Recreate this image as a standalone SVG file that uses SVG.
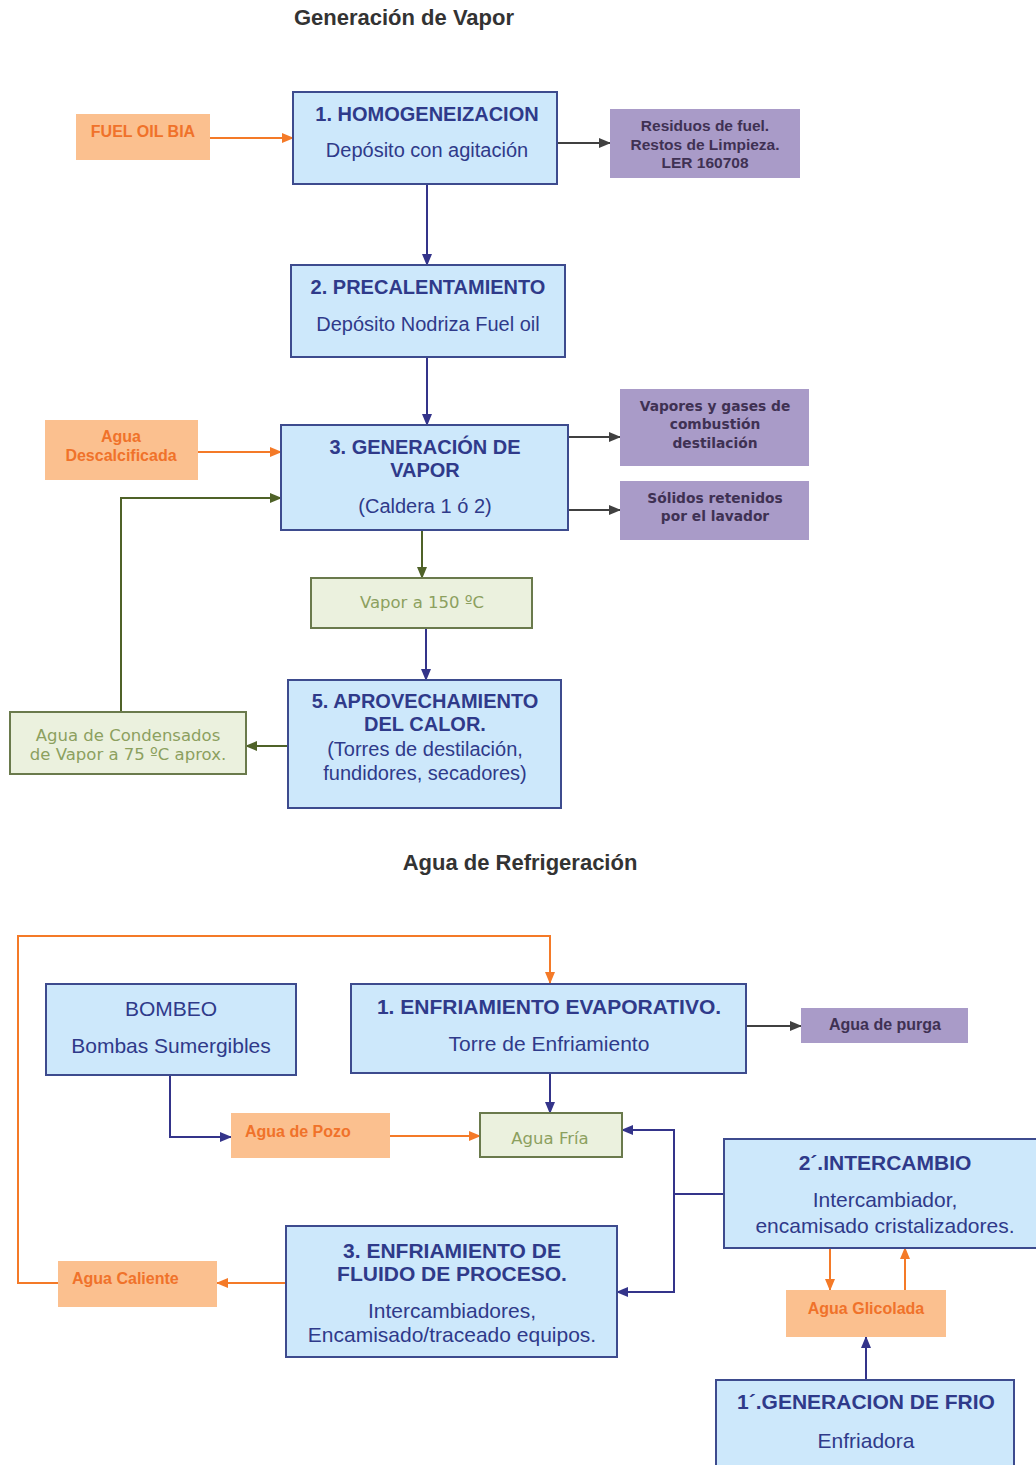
<svg xmlns="http://www.w3.org/2000/svg" width="1036" height="1465" viewBox="0 0 1036 1465">
<defs>
<style>
.bg{fill:#ffffff}
.proc{fill:#cde8fb;stroke:#3d4b8e;stroke-width:2}
.org{fill:#fbc08f;stroke:none}
.pur{fill:#a99bc8;stroke:none}
.grn{fill:#ebf1de;stroke:#6a7a4c;stroke-width:2}
.title{font-family:"Liberation Sans",Arial,sans-serif;font-weight:bold;font-size:22px;fill:#333333;text-anchor:middle}
.pb{font-family:"Liberation Sans",Arial,sans-serif;font-weight:bold;font-size:20px;fill:#2f3a8a;text-anchor:middle}
.pr{font-family:"Liberation Sans",Arial,sans-serif;font-size:20px;fill:#2f3a8a;text-anchor:middle}
.pb2{font-family:"Liberation Sans",Arial,sans-serif;font-weight:bold;font-size:21px;fill:#2f3a8a;text-anchor:middle}
.pr2{font-family:"Liberation Sans",Arial,sans-serif;font-size:21px;fill:#2f3a8a;text-anchor:middle}
.ot{font-family:"Liberation Sans",Arial,sans-serif;font-weight:bold;font-size:16px;fill:#f0722a;text-anchor:middle}
.otl{font-family:"Liberation Sans",Arial,sans-serif;font-weight:bold;font-size:16px;fill:#f0722a}
.ut{font-family:"Liberation Sans",Arial,sans-serif;font-weight:bold;font-size:15.5px;fill:#3f3153;text-anchor:middle}
.ud{font-family:"DejaVu Sans",Verdana,sans-serif;font-weight:bold;font-size:13.8px;fill:#3f3153;text-anchor:middle}
.gt{font-family:"DejaVu Sans",Verdana,sans-serif;font-size:16.5px;fill:#8ca05e;text-anchor:middle}
.cb{fill:none;stroke:#34348a;stroke-width:2}
.co{fill:none;stroke:#f47a28;stroke-width:2}
.cg{fill:none;stroke:#4f6228;stroke-width:2}
.ck{fill:none;stroke:#404040;stroke-width:2}
</style>
<marker id="mb" markerWidth="12" markerHeight="10" refX="11" refY="5" orient="auto" markerUnits="userSpaceOnUse"><path d="M0,0 L12,5 L0,10 Z" fill="#34348a"/></marker>
<marker id="mo" markerWidth="12" markerHeight="10" refX="11" refY="5" orient="auto" markerUnits="userSpaceOnUse"><path d="M0,0 L12,5 L0,10 Z" fill="#f47a28"/></marker>
<marker id="mg" markerWidth="12" markerHeight="10" refX="11" refY="5" orient="auto" markerUnits="userSpaceOnUse"><path d="M0,0 L12,5 L0,10 Z" fill="#4f6228"/></marker>
<marker id="mk" markerWidth="12" markerHeight="10" refX="11" refY="5" orient="auto" markerUnits="userSpaceOnUse"><path d="M0,0 L12,5 L0,10 Z" fill="#404040"/></marker>
</defs>
<rect class="bg" x="0" y="0" width="1036" height="1465"/>

<text class="title" x="404" y="25">Generación de Vapor</text>
<text class="title" x="520" y="870">Agua de Refrigeración</text>

<g id="connectors">
<path class="co" d="M210,138 H293" marker-end="url(#mo)"/>
<path class="ck" d="M557,143 H610" marker-end="url(#mk)"/>
<path class="cb" d="M427,184 V265" marker-end="url(#mb)"/>
<path class="cb" d="M427,357 V425" marker-end="url(#mb)"/>
<path class="co" d="M198,452 H281" marker-end="url(#mo)"/>
<path class="cg" d="M121,712 V498 H281" marker-end="url(#mg)"/>
<path class="ck" d="M568,437 H620" marker-end="url(#mk)"/>
<path class="ck" d="M568,510 H620" marker-end="url(#mk)"/>
<path class="cg" d="M422,530 V578" marker-end="url(#mg)"/>
<path class="cb" d="M426,628 V680" marker-end="url(#mb)"/>
<path class="cg" d="M288,746 H246" marker-end="url(#mg)"/>
<path class="co" d="M58,1283 H18 V936 H550 V983" marker-end="url(#mo)"/>
<path class="ck" d="M746,1026 H801" marker-end="url(#mk)"/>
<path class="cb" d="M550,1073 V1113" marker-end="url(#mb)"/>
<path class="cb" d="M170,1075 V1137 H231" marker-end="url(#mb)"/>
<path class="co" d="M390,1136 H480" marker-end="url(#mo)"/>
<path class="cb" d="M724,1194 H674 V1130 H622" marker-end="url(#mb)"/>
<path class="cb" d="M674,1194 V1292 H617" marker-end="url(#mb)"/>
<path class="co" d="M286,1283 H217" marker-end="url(#mo)"/>
<path class="co" d="M830,1248 V1290" marker-end="url(#mo)"/>
<path class="co" d="M905,1290 V1248" marker-end="url(#mo)"/>
<path class="cb" d="M866,1380 V1337" marker-end="url(#mb)"/>
</g>

<g id="fuel-oil">
<rect class="org" x="76" y="114" width="134" height="46"/>
<text class="ot" x="143" y="137">FUEL OIL BIA</text>
</g>
<g id="homogeneizacion">
<rect class="proc" x="293" y="92" width="264" height="92"/>
<text class="pb" x="427" y="121">1. HOMOGENEIZACION</text>
<text class="pr" x="427" y="157">Depósito con agitación</text>
</g>
<g id="residuos">
<rect class="pur" x="610" y="109" width="190" height="69"/>
<text class="ut" x="705" y="131">Residuos de fuel.</text>
<text class="ut" x="705" y="150">Restos de Limpieza.</text>
<text class="ut" x="705" y="168">LER 160708</text>
</g>
<g id="precalentamiento">
<rect class="proc" x="291" y="265" width="274" height="92"/>
<text class="pb" x="428" y="294">2. PRECALENTAMIENTO</text>
<text class="pr" x="428" y="331">Depósito Nodriza Fuel oil</text>
</g>
<g id="agua-descalcificada">
<rect class="org" x="45" y="420" width="153" height="60"/>
<text class="ot" x="121" y="442">Agua</text>
<text class="ot" x="121" y="461">Descalcificada</text>
</g>
<g id="generacion-vapor">
<rect class="proc" x="281" y="425" width="287" height="105"/>
<text class="pb" x="425" y="454">3. GENERACIÓN DE</text>
<text class="pb" x="425" y="477">VAPOR</text>
<text class="pr" x="425" y="513">(Caldera 1 ó 2)</text>
</g>
<g id="vapores">
<rect class="pur" x="620" y="389" width="189" height="77"/>
<text class="ud" x="715" y="411">Vapores y gases de</text>
<text class="ud" x="715" y="429">combustión</text>
<text class="ud" x="715" y="448">destilación</text>
</g>
<g id="solidos">
<rect class="pur" x="620" y="481" width="189" height="59"/>
<text class="ud" x="715" y="503">Sólidos retenidos</text>
<text class="ud" x="715" y="521">por el lavador</text>
</g>
<g id="vapor-150">
<rect class="grn" x="311" y="578" width="221" height="50"/>
<text class="gt" x="422" y="608">Vapor a 150 ºC</text>
</g>
<g id="aprovechamiento">
<rect class="proc" x="288" y="680" width="273" height="128"/>
<text class="pb" x="425" y="708">5. APROVECHAMIENTO</text>
<text class="pb" x="425" y="731">DEL CALOR.</text>
<text class="pr" x="425" y="756">(Torres de destilación,</text>
<text class="pr" x="425" y="780">fundidores, secadores)</text>
</g>
<g id="condensados">
<rect class="grn" x="10" y="712" width="236" height="62"/>
<text class="gt" x="128" y="741">Agua de Condensados</text>
<text class="gt" x="128" y="760">de Vapor a 75 ºC aprox.</text>
</g>

<g id="bombeo">
<rect class="proc" x="46" y="984" width="250" height="91"/>
<text class="pr2" x="171" y="1016">BOMBEO</text>
<text class="pr2" x="171" y="1053">Bombas Sumergibles</text>
</g>
<g id="enfriamiento-evaporativo">
<rect class="proc" x="351" y="984" width="395" height="89"/>
<text class="pb2" x="549" y="1014">1. ENFRIAMIENTO EVAPORATIVO.</text>
<text class="pr2" x="549" y="1051">Torre de Enfriamiento</text>
</g>
<g id="agua-purga">
<rect class="pur" x="801" y="1008" width="167" height="35"/>
<text class="ut" x="885" y="1030" style="font-size:16px">Agua de purga</text>
</g>
<g id="agua-pozo">
<rect class="org" x="231" y="1113" width="159" height="45"/>
<text class="otl" x="245" y="1137">Agua de Pozo</text>
</g>
<g id="agua-fria">
<rect class="grn" x="480" y="1113" width="142" height="44"/>
<text class="gt" x="550" y="1144">Agua Fría</text>
</g>
<g id="intercambio">
<rect class="proc" x="724" y="1139" width="322" height="109"/>
<text class="pb2" x="885" y="1170">2´.INTERCAMBIO</text>
<text class="pr2" x="885" y="1207">Intercambiador,</text>
<text class="pr2" x="885" y="1233">encamisado cristalizadores.</text>
</g>
<g id="enfriamiento-fluido">
<rect class="proc" x="286" y="1226" width="331" height="131"/>
<text class="pb2" x="452" y="1258">3. ENFRIAMIENTO DE</text>
<text class="pb2" x="452" y="1281">FLUIDO DE PROCESO.</text>
<text class="pr2" x="452" y="1318">Intercambiadores,</text>
<text class="pr2" x="452" y="1342">Encamisado/traceado equipos.</text>
</g>
<g id="agua-caliente">
<rect class="org" x="58" y="1261" width="159" height="46"/>
<text class="otl" x="72" y="1284">Agua Caliente</text>
</g>
<g id="agua-glicolada">
<rect class="org" x="786" y="1290" width="160" height="47"/>
<text class="ot" x="866" y="1314">Agua Glicolada</text>
</g>
<g id="generacion-frio">
<rect class="proc" x="716" y="1380" width="298" height="100"/>
<text class="pb2" x="866" y="1409">1´.GENERACION DE FRIO</text>
<text class="pr2" x="866" y="1448">Enfriadora</text>
</g>
</svg>
